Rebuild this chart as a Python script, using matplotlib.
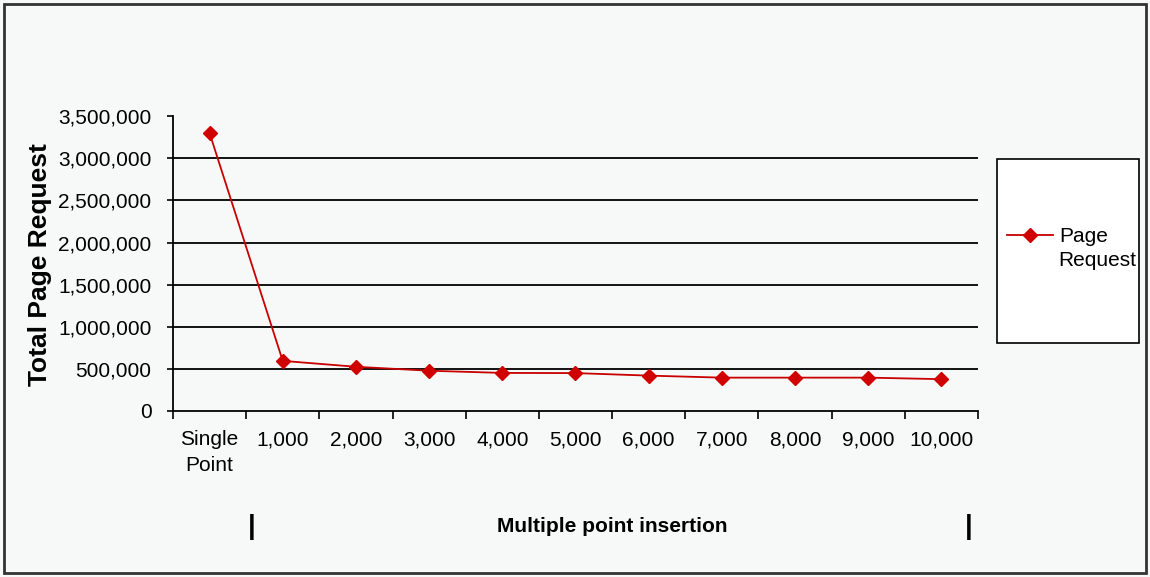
import numpy as np
import matplotlib.pyplot as plt
from matplotlib.patches import Rectangle
from matplotlib.ticker import FuncFormatter

plt.rcParams['font.family'] = ['Liberation Sans', 'DejaVu Sans']

categories = ['Single\nPoint', '1,000', '2,000', '3,000', '4,000', '5,000',
              '6,000', '7,000', '8,000', '9,000', '10,000']
page_requests = [3300000, 595000, 525000, 478000, 452000, 450000,
                 420000, 396000, 396000, 396000, 378000]
y_ticks = [0, 500000, 1000000, 1500000, 2000000, 2500000, 3000000, 3500000]

bg = '#f7f9f9'
fig = plt.figure(figsize=(11.5, 5.77), dpi=100, facecolor=bg)
ax = fig.add_axes([0.1504, 0.2877, 0.700, 0.511])
ax.set_facecolor(bg)

x = np.arange(len(categories))
line, = ax.plot(x, page_requests, color='#c80000', lw=1.3, marker='D',
                markersize=7.2, markerfacecolor='#d00000', markeredgecolor='#d00000',
                label='Page')

ax.set_xlim(-0.5, len(categories) - 0.5)
ax.set_ylim(0, 3500000)

# gridlines at every step except the top
for v in y_ticks[1:-1]:
    ax.axhline(v, color='black', lw=1.3, zorder=1)

ax.set_yticks(y_ticks)
ax.yaxis.set_major_formatter(FuncFormatter(lambda v, p: f'{int(v):,}'))
ax.tick_params(axis='y', length=4.5, width=1.2, pad=11, labelsize=15, colors='black')

# ticks on category boundaries, labels on category centres
ax.set_xticks(np.arange(-0.5, len(categories), 1.0))
ax.set_xticklabels([])
ax.tick_params(axis='x', which='major', length=5.5, width=1.2, direction='out')
ax.set_xticks(x, categories, minor=True)
ax.tick_params(axis='x', which='minor', length=0, pad=14, labelsize=15)
for t in ax.get_xticklabels(minor=True):
    t.set_linespacing(1.45)

for s in ['top', 'right']:
    ax.spines[s].set_visible(False)
for s in ['left', 'bottom']:
    ax.spines[s].set_linewidth(1.3)
    ax.spines[s].set_color('black')

fig.text(40 / 1150, 1 - 265 / 577, 'Total Page Request', fontweight='bold',
         fontsize=19, rotation=90, ha='center', va='center')

fig.text(0.532, 0.087, 'Multiple point insertion', fontweight='bold',
         fontsize=15, ha='center', va='center')
fig.text(0.219, 0.087, '|', fontweight='bold', fontsize=20, ha='center', va='center')
fig.text(0.842, 0.087, '|', fontweight='bold', fontsize=20, ha='center', va='center')

# legend box
fig.patches.append(Rectangle((997 / 1150, 1 - 343 / 577), 142 / 1150, 184 / 577,
                             transform=fig.transFigure, facecolor='white',
                             edgecolor='black', lw=1.2))
fig.legend(handles=[line], loc='center left', bbox_to_anchor=(1007 / 1150, 1 - 237 / 577),
           frameon=False, fontsize=15, handlelength=2.2, handletextpad=0.3,
           borderpad=0, borderaxespad=0)
fig.text(1058 / 1150, 1 - 261 / 577, 'Request', fontsize=15, ha='left', va='center')

# outer border
fig.patches.append(Rectangle((4 / 1150, 4 / 577), 1142 / 1150, 569 / 577,
                             transform=fig.transFigure, fill=False,
                             edgecolor='#333333', lw=2))

fig.savefig('out.png', dpi=100, facecolor=bg)
